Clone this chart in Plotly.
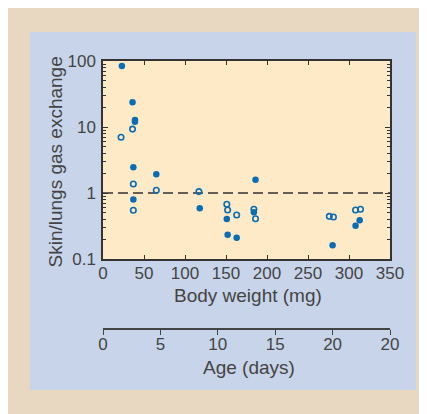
import plotly.graph_objects as go

# ---- data ----
filled_weight = [23, 36, 39, 39, 37, 37, 65, 118, 151, 152, 163, 186, 184, 280, 308, 313]
filled_ratio = [84, 23.7, 12.8, 12.0, 2.45, 0.80, 1.92, 0.586, 0.404, 0.233, 0.21, 1.59, 0.51, 0.161, 0.32, 0.386]

open_weight = [36, 22, 37, 37, 65, 117, 151, 152, 163, 184, 186, 276, 281, 308, 314]
open_ratio = [9.3, 7.0, 1.37, 0.547, 1.10, 1.05, 0.674, 0.552, 0.464, 0.566, 0.408, 0.443, 0.433, 0.552, 0.566]

reference_level = [1, 1]
weight_range = [0, 350]
weight_ticks = [0, 50, 100, 150, 200, 250, 300, 350]
ratio_ticks = [0.1, 1, 10, 100]
ratio_ticktext = ["0.1", "1", "10", "100"]
ratio_minor = [m * d for d in (0.1, 1, 10) for m in range(2, 10)]
age_tickvals = [0, 5, 10, 15, 20, 25]
age_ticktext = ["0", "5", "10", "15", "20", "20"]

# ---- style ----
BEIGE = "#e8d8c2"
BLUE = "#c8d4e9"
YELLOW = "#feeac6"
MARK = "#0a6db3"
INK = "#444444"
FONT = "Liberation Sans, Arial, sans-serif"
TICK_SIZE = 17
TITLE_SIZE = 19

W, H = 427, 414
L, R, T, B = 95, 45, 53, 94
pw, ph = W - L - R, H - T - B


def px(x):
    return (x - L) / pw


def py(y):
    return (H - B - y) / ph


main_bottom = py(251)

fig = go.Figure()

fig.add_trace(go.Scatter(
    x=weight_range, y=reference_level, mode="lines",
    line=dict(color="#333333", width=1.5, dash="10px,5px"),
    hoverinfo="skip", showlegend=False, xaxis="x", yaxis="y"))

fig.add_trace(go.Scatter(
    x=filled_weight, y=filled_ratio, mode="markers",
    marker=dict(color=MARK, size=6.5, symbol="circle"),
    showlegend=False, xaxis="x", yaxis="y"))

fig.add_trace(go.Scatter(
    x=open_weight, y=open_ratio, mode="markers",
    marker=dict(color=MARK, size=5.5, symbol="circle-open", line=dict(width=1.6, color=MARK)),
    showlegend=False, xaxis="x", yaxis="y"))

# invisible trace to host the age axis
fig.add_trace(go.Scatter(
    x=age_tickvals, y=[0] * len(age_tickvals), mode="markers",
    marker=dict(opacity=0), hoverinfo="skip", showlegend=False,
    xaxis="x2", yaxis="y2"))

shapes = [
    dict(type="rect", xref="paper", yref="paper", x0=px(22), x1=px(408), y0=py(24), y1=py(382),
         fillcolor=BLUE, line=dict(width=0), layer="below"),
    dict(type="rect", xref="x domain", yref="y domain", x0=0, x1=1, y0=0, y1=1,
         fillcolor=YELLOW, line=dict(width=0), layer="below"),
]

annotations = [
    dict(text="Body weight (mg)", xref="paper", yref="paper", x=px(240), y=py(287),
         showarrow=False, font=dict(size=TITLE_SIZE, color=INK, family=FONT), xanchor="center", yanchor="middle"),
    dict(text="Age (days)", xref="paper", yref="paper", x=px(241), y=py(359),
         showarrow=False, font=dict(size=TITLE_SIZE, color=INK, family=FONT), xanchor="center", yanchor="middle"),
    dict(text="Skin/lungs gas exchange", xref="paper", yref="paper", x=px(47), y=py(153.5),
         showarrow=False, textangle=-90, font=dict(size=TITLE_SIZE, color=INK, family=FONT),
         xanchor="center", yanchor="middle"),
]

fig.update_layout(
    width=W, height=H,
    margin=dict(l=L, r=R, t=T, b=B, pad=0),
    paper_bgcolor=BEIGE,
    plot_bgcolor="rgba(0,0,0,0)",
    font=dict(family=FONT, size=TICK_SIZE, color=INK),
    shapes=shapes,
    annotations=annotations,
    xaxis=dict(
        range=weight_range, tickvals=weight_ticks, ticks="inside", ticklen=4, tickwidth=1.2,
        tickcolor="#333333", showline=True, linecolor="#333333", linewidth=1.5, mirror="ticks",
        showgrid=False, zeroline=False, anchor="y", domain=[0, 1],
        tickfont=dict(size=TICK_SIZE, color=INK), ticklabelstandoff=-2,
    ),
    yaxis=dict(
        type="log", range=[-1, 2], tickvals=ratio_ticks, ticktext=ratio_ticktext,
        ticks="inside", ticklen=5, tickwidth=1.2, tickcolor="#333333",
        minor=dict(tickvals=ratio_minor, ticks="inside", ticklen=3, tickwidth=1, tickcolor="#333333"),
        showline=True, linecolor="#333333", linewidth=1.5, mirror="ticks",
        showgrid=False, zeroline=False, anchor="x", domain=[main_bottom, 1],
        tickfont=dict(size=TICK_SIZE, color=INK), ticklabelstandoff=2,
    ),
    xaxis2=dict(
        range=[0, 25], tickvals=age_tickvals, ticktext=age_ticktext,
        ticks="outside", ticklen=5, tickwidth=1.2, tickcolor="#444444",
        showline=True, linecolor="#444444", linewidth=1.5,
        showgrid=False, zeroline=False, anchor="y2", domain=[0, 1],
        tickfont=dict(size=TICK_SIZE, color=INK), ticklabelstandoff=-5,
    ),
    yaxis2=dict(domain=[0, 0.002], visible=False, anchor="x2", range=[-1, 1]),
)

fig.write_html("out.html")
